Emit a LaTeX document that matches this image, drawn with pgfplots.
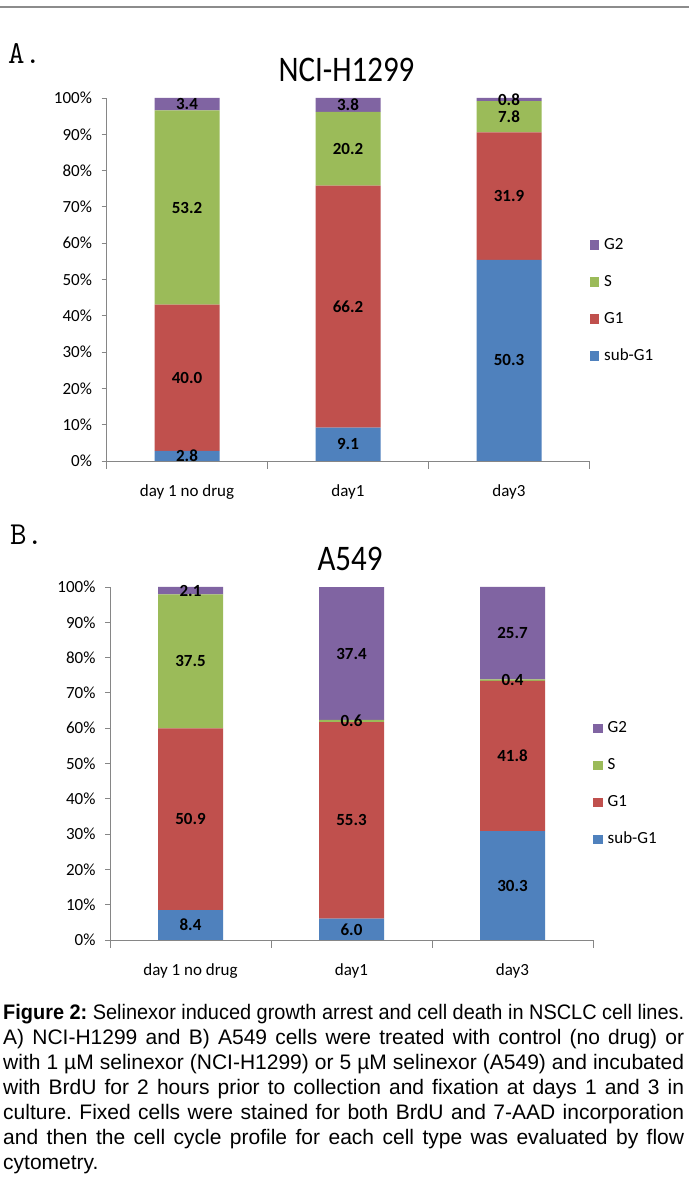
\documentclass[border=0pt]{standalone}
\usepackage{pgfplots}
\pgfplotsset{compat=1.18}
\usepackage{pgfplotstable}
\usepackage{graphicx}
\usepackage{fontspec}
\setmainfont{Carlito}
\newfontfamily\titlefont[FakeStretch=0.86]{Carlito}
\newfontfamily\capfont{Liberation Sans}
\definecolor{cblue}{HTML}{4F81BD}
\definecolor{cred}{HTML}{C0504D}
\definecolor{cgreen}{HTML}{9BBB59}
\definecolor{cpurple}{HTML}{8064A2}
\definecolor{axgray}{HTML}{868686}

\newlength\capw \setlength\capw{681pt}
\newcommand\fitline[1]{\setbox0=\hbox{#1}%
  \ifdim\wd0>\capw \resizebox{\capw}{\height}{\box0}%
  \else \hbox to \capw{#1}\fi}

% normalized height (y) and printed value (lab)
\pgfplotstableread{
x y lab
0 2.82 2.8
1 9.16 9.1
2 55.40 50.3
}\AsubGone
\pgfplotstableread{
x y lab
0 40.24 40.0
1 66.67 66.2
2 35.13 31.9
}\AGone
\pgfplotstableread{
x y lab
0 53.52 53.2
1 20.34 20.2
2 8.59 7.8
}\AS
\pgfplotstableread{
x y lab
0 3.42 3.4
1 3.83 3.8
2 0.88 0.8
}\AGtwo
\pgfplotstableread{
x y lab
0 8.49 8.4
1 6.04 6.0
2 30.86 30.3
}\BsubGone
\pgfplotstableread{
x y lab
0 51.47 50.9
1 55.69 55.3
2 42.57 41.8
}\BGone
\pgfplotstableread{
x y lab
0 37.92 37.5
1 0.60 0.6
2 0.41 0.4
}\BS
\pgfplotstableread{
x y lab
0 2.12 2.1
1 37.66 37.4
2 26.17 25.7
}\BGtwo

\pgfplotsset{cellaxis/.style={
  ybar stacked, bar width=65pt,
  scale only axis, width=483pt,
  xmin=-0.5, xmax=2.5, ymin=0, ymax=100,
  clip=false,
  axis lines*=left,
  axis line style={axgray, line width=0.8pt},
  xtick={0,1,2}, xticklabels={day 1 no drug, day1, day3},
  major x tick style={draw=none},
  minor xtick={-0.5,0.5,1.5,2.5},
  minor x tick style={axgray, line width=0.8pt},
  minor tick length=8pt,
  ytick={0,10,...,100},
  yticklabels={0\%,10\%,20\%,30\%,40\%,50\%,60\%,70\%,80\%,90\%,100\%},
  y tick style={axgray, line width=0.8pt},
  major tick length=5pt,
  tick align=outside,
  tick label style={font=\fontsize{17}{17}\selectfont, text=black},
  yticklabel style={xshift=-6pt},
  xticklabel style={yshift=-15pt},
  nodes near coords, point meta=explicit symbolic,
  every node near coord/.append style={font=\bfseries\fontsize{17}{17}\selectfont,
     anchor=center, text=black, inner sep=0pt},
  legend style={draw=none, fill=none, at={(1,0.442)}, anchor=west, inner sep=0pt,
     font=\fontsize{17}{17}\selectfont, row sep=21pt,
     nodes={inner sep=0pt, text height=12pt, text depth=4pt},
     /tikz/every odd column/.append style={column sep=5pt}},
  legend cell align=left,
  legend image code/.code={\fill[##1] (0pt,-4.75pt) rectangle (9.5pt,4.75pt);},
  reverse legend,
}}

\begin{document}
\frenchspacing
\begin{tikzpicture}[x=1pt,y=1pt]
\useasboundingbox (0,0) rectangle (689,1182);
\fill[white] (0,0) rectangle (689,1182);
\draw[color={rgb,255:red,140;green,140;blue,140}, line width=1.6pt] (0,1175) -- (689,1175);

\node[anchor=base west, inner sep=0pt, font=\ttfamily\fontsize{32}{32}\selectfont] at (8,1118) {A.};
\node[anchor=base, inner sep=0pt, font=\titlefont\fontsize{36}{36}\selectfont] at (346.5,1100) {NCI-H1299};

\begin{axis}[cellaxis, height=363pt, at={(106.5pt,721pt)}, anchor=south west]
\addplot[fill=cblue, draw=none] table[x=x, y=y, meta=lab] {\AsubGone};
\addplot[fill=cred, draw=none] table[x=x, y=y, meta=lab] {\AGone};
\addplot[fill=cgreen, draw=none] table[x=x, y=y, meta=lab] {\AS};
\addplot[fill=cpurple, draw=none] table[x=x, y=y, meta=lab] {\AGtwo};
\legend{sub-G1, G1, S, G2}
\end{axis}

\node[anchor=base west, inner sep=0pt, font=\ttfamily\fontsize{32}{32}\selectfont] at (10,637) {B.};
\node[anchor=base, inner sep=0pt, font=\titlefont\fontsize{36}{36}\selectfont] at (350,611) {A549};

\begin{axis}[cellaxis, height=353pt, at={(110pt,242pt)}, anchor=south west]
\addplot[fill=cblue, draw=none] table[x=x, y=y, meta=lab] {\BsubGone};
\addplot[fill=cred, draw=none] table[x=x, y=y, meta=lab] {\BGone};
\addplot[fill=cgreen, draw=none] table[x=x, y=y, meta=lab] {\BS};
\addplot[fill=cpurple, draw=none] table[x=x, y=y, meta=lab] {\BGtwo};
\legend{sub-G1, G1, S, G2}
\end{axis}

\node[anchor=north west, inner sep=0pt, align=left,
      font=\capfont\fontsize{21}{25}\selectfont] at (3,178)
{\fitline{\textbf{Figure 2:} Selinexor induced growth arrest and cell death in NSCLC cell lines.}\\
\fitline{A) NCI-H1299 and B) A549 cells were treated with control (no drug) or}\\
\fitline{with 1 µM selinexor (NCI-H1299) or 5 µM selinexor (A549) and incubated}\\
\fitline{with BrdU for 2 hours prior to collection and fixation at days 1 and 3 in}\\
\fitline{culture. Fixed cells were stained for both BrdU and 7-AAD incorporation}\\
\fitline{and then the cell cycle profile for each cell type was evaluated by flow}\\
cytometry.};
\end{tikzpicture}
\end{document}
